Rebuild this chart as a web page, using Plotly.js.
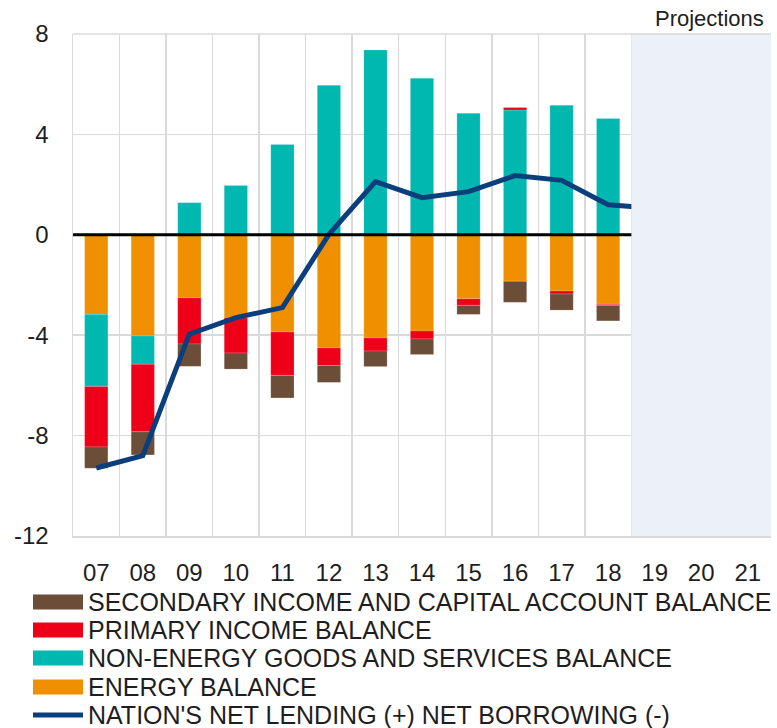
<!DOCTYPE html>
<html>
<head>
<meta charset="utf-8">
<script src="https://cdn.plot.ly/plotly-3.0.1.min.js"></script>
<style>html,body{margin:0;padding:0;background:#fff;}#chart{width:777px;height:728px;}</style>
</head>
<body>
<div id="chart"></div>
<script>
// ---- data ----
const categories = ['07','08','09','10','11','12','13','14','15','16','17','18','19','20','21'];
const dataYears  = ['07','08','09','10','11','12','13','14','15','16','17','18'];
const energyBalance    = [-3.17, -4.03, -2.51, -3.31, -3.87, -4.51, -4.11, -3.83, -2.55, -1.85, -2.24, -2.77];
const nonEnergyBalance = [-2.87, -1.13,  1.28,  1.96,  3.60,  5.96,  7.36,  6.24,  4.84,  4.97,  5.16,  4.63];
const primaryIncome    = [-2.41, -2.69, -1.84, -1.40, -1.73, -0.70, -0.52, -0.32, -0.26,  0.10, -0.12, -0.04];
const secondaryIncome  = [-0.85, -0.92, -0.89, -0.64, -0.90, -0.67, -0.62, -0.62, -0.36, -0.84, -0.64, -0.62];
const lineYears        = ['07','08','09','10','11','12','13','14','15','16','17','18','19'];
const netLending       = [-9.29, -8.80, -3.96, -3.30, -2.90, 0.02, 2.12, 1.48, 1.72, 2.36, 2.17, 1.20, 1.06];
const yTickValues = [-12, -8, -4, 0, 4, 8];
const yTickLabels = ['-12', '-8', '-4', '0', '4', '8'];
const projectionStart = '19';
const legendNames = [
  'SECONDARY INCOME AND CAPITAL ACCOUNT BALANCE',
  'PRIMARY INCOME BALANCE',
  'NON-ENERGY GOODS AND SERVICES BALANCE',
  'ENERGY BALANCE',
  "NATION'S NET LENDING (+) NET BORROWING (-)"
];

// ---- styles ----
const C = {brown:'#6B4D38', red:'#EE0019', teal:'#00B8B0', orange:'#F08F00', navy:'#0B3F7C', shade:'#ECF0F8', grid:'#DADADA', text:'#1E1E1E'};
const FONT = 'Liberation Sans, Arial, sans-serif';
const barLine = {color:'rgba(255,255,255,0.35)', width:0.5};

const traces = [
  {type:'bar', x:dataYears, y:energyBalance, name:legendNames[3], marker:{color:C.orange, line:barLine}, showlegend:false},
  {type:'bar', x:dataYears, y:nonEnergyBalance, name:legendNames[2], marker:{color:C.teal, line:barLine}, showlegend:false},
  {type:'bar', x:dataYears, y:primaryIncome, name:legendNames[1], marker:{color:C.red, line:barLine}, showlegend:false},
  {type:'bar', x:dataYears, y:secondaryIncome, name:legendNames[0], marker:{color:C.brown, line:barLine}, showlegend:false},
  {type:'scatter', mode:'lines', x:lineYears, y:netLending, name:legendNames[4], line:{color:C.navy, width:5}, showlegend:false}
];

const projIdx = categories.indexOf(projectionStart);
const shapes = [
  {type:'line', xref:'paper', yref:'y', x0:0, x1:1, y0:0, y1:0, line:{color:'#000', width:3}, layer:'above'},
  {type:'rect', xref:'x', yref:'paper', x0:projIdx-0.5, x1:categories.length-0.5, y0:0, y1:1, fillcolor:C.shade, line:{width:0}, layer:'above'},
  {type:'line', xref:'paper', yref:'paper', x0:0, x1:1, y0:1, y1:1, line:{color:C.grid, width:1.5}, layer:'above'}
];
const legendColors = [C.brown, C.red, C.teal, C.orange];
const legendCenters = [602, 630, 658, 687, 715]; // px below top of figure
const plotBottom = 536, plotLeft = 73;
const annotations = [
  {xref:'paper', yref:'paper', x:1, y:1, xanchor:'right', yanchor:'bottom', xshift:-5, yshift:1,
   text:'Projections', showarrow:false, font:{family:FONT, size:22, color:C.text}}
];
legendNames.forEach((nm, i) => {
  const dy = -(legendCenters[i] - plotBottom);
  annotations.push({xref:'paper', yref:'paper', x:0, y:0, xanchor:'left', yanchor:'middle',
    xshift:86-plotLeft, yshift:dy, text:nm, showarrow:false, font:{family:FONT, size:25, color:C.text}});
  if (i < 4) {
    shapes.push({type:'rect', xref:'paper', yref:'paper', xsizemode:'pixel', ysizemode:'pixel',
      xanchor:0, yanchor:0, x0:33-plotLeft, x1:83-plotLeft, y0:dy-7.5, y1:dy+7.5,
      fillcolor:legendColors[i], line:{width:0}});
  } else {
    shapes.push({type:'line', xref:'paper', yref:'paper', xsizemode:'pixel', ysizemode:'pixel',
      xanchor:0, yanchor:0, x0:33-plotLeft, x1:83-plotLeft, y0:dy, y1:dy,
      line:{color:C.navy, width:5}});
  }
});

const layout = {
  width:777, height:728,
  margin:{l:plotLeft, r:6, t:34, b:728-plotBottom, pad:0},
  paper_bgcolor:'#fff', plot_bgcolor:'#fff',
  barmode:'relative', bargap:0.5,
  showlegend:false,
  font:{family:FONT, color:C.text, size:24},
  xaxis:{type:'category', categoryorder:'array', categoryarray:categories, range:[-0.5, categories.length-0.5],
    tickson:'boundaries', showgrid:true, gridcolor:C.grid, gridwidth:1.5, ticks:'', ticklabelstandoff:15,
    showline:true, linecolor:C.grid, linewidth:1.5, mirror:false, zeroline:false,
    tickfont:{family:FONT, size:24, color:C.text}, fixedrange:true},
  yaxis:{range:[-12, 8], tickmode:'array', tickvals:yTickValues, ticktext:yTickLabels,
    showgrid:true, gridcolor:C.grid, gridwidth:1.5, ticks:'', ticklabelstandoff:18,
    showline:true, linecolor:C.grid, linewidth:1.5, mirror:false,
    zeroline:false,
    tickfont:{family:FONT, size:24, color:C.text}, fixedrange:true},
  shapes:shapes,
  annotations:annotations
};

Plotly.newPlot('chart', traces, layout, {displayModeBar:false, staticPlot:true});
</script>
</body>
</html>
